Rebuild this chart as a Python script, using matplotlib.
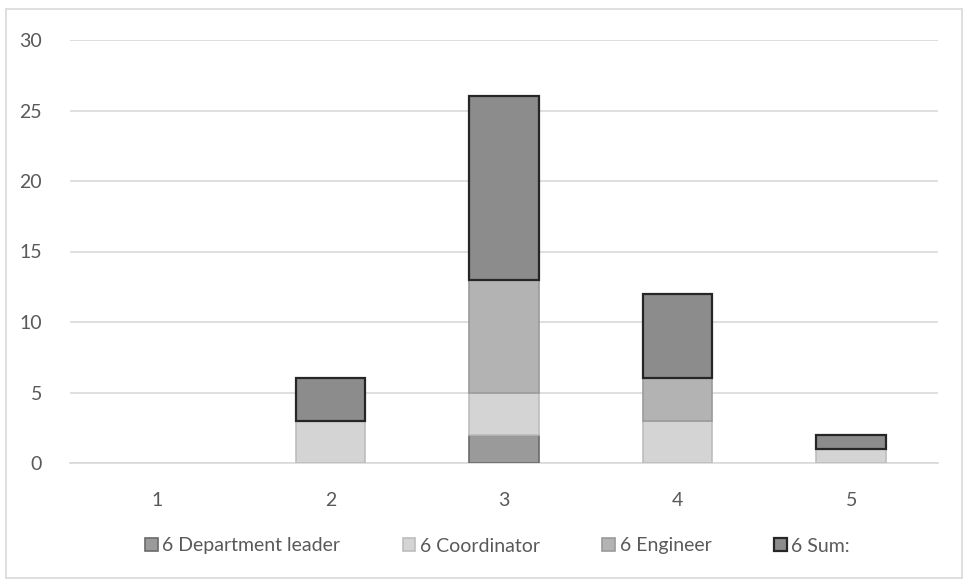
import matplotlib
matplotlib.use("Agg")
import matplotlib.pyplot as plt
from matplotlib.patches import Patch, Rectangle
import numpy as np

categories = ["1", "2", "3", "4", "5"]
series_names = ["6 Department leader", "6 Coordinator", "6 Engineer", "6 Sum:"]
dept_leader = [0, 0, 2, 0, 0]
coordinator = [0, 3, 3, 3, 1]
engineer = [0, 0, 8, 3, 0]
sum_vals = [0, 3, 13, 6, 1]
yticks = [0, 5, 10, 15, 20, 25, 30]

fills = ["#9a9a9a", "#d4d4d4", "#b3b3b3", "#8c8c8c"]
edges = ["#6a6a6a", "#bdbdbd", "#9a9a9a", "#262626"]
lws = [1.2, 1.2, 1.2, 1.6]

plt.rcParams['font.family'] = ['Lato', 'DejaVu Sans']
fig = plt.figure(figsize=(9.66, 5.82), dpi=100)
fig.patches.append(Rectangle((6/966, 1-578/582), 956/966, 569/582, transform=fig.transFigure,
                             fill=False, edgecolor="#d9d9d9", linewidth=1.2))
ax = fig.add_axes([70/966, 1-463/582, 868/966, 423/582])

x = np.arange(len(categories))
bottom = np.zeros(len(categories))
data = [dept_leader, coordinator, engineer, sum_vals]
for vals, fc, ec, lw in zip(data, fills, edges, lws):
    v = np.array(vals, dtype=float)
    mask = v > 0
    ax.bar(x[mask], v[mask], bottom=bottom[mask], width=0.40, color=fc, edgecolor=ec, linewidth=lw, zorder=3)
    bottom += v

ax.set_ylim(0, 30)
ax.set_xlim(-0.5, 4.5)
ax.set_yticks(yticks)
ax.set_xticks(x)
ax.set_xticklabels(categories)
ax.yaxis.grid(True, color="#d9d9d9", linewidth=1.2, zorder=0)
for s in ["top", "right", "left"]:
    ax.spines[s].set_visible(False)
ax.spines["bottom"].set_color("#d9d9d9")
ax.spines["bottom"].set_linewidth(1.2)
ax.tick_params(axis="both", length=0, labelsize=14, labelcolor="#595959")
ax.tick_params(axis="y", pad=20)
ax.tick_params(axis="x", pad=21)

handles = [Patch(facecolor=fc, edgecolor=ec, linewidth=lw) for fc, ec, lw in zip(fills, edges, lws)]
leg = fig.legend(handles, series_names, loc="center", bbox_to_anchor=(0.515, 1-546/582), ncol=4,
                 frameon=False, fontsize=14, handlelength=0.65, handleheight=0.65, handletextpad=0.25,
                 columnspacing=3.2)
for t in leg.get_texts():
    t.set_color("#595959")

fig.savefig("out.png", dpi=100)
